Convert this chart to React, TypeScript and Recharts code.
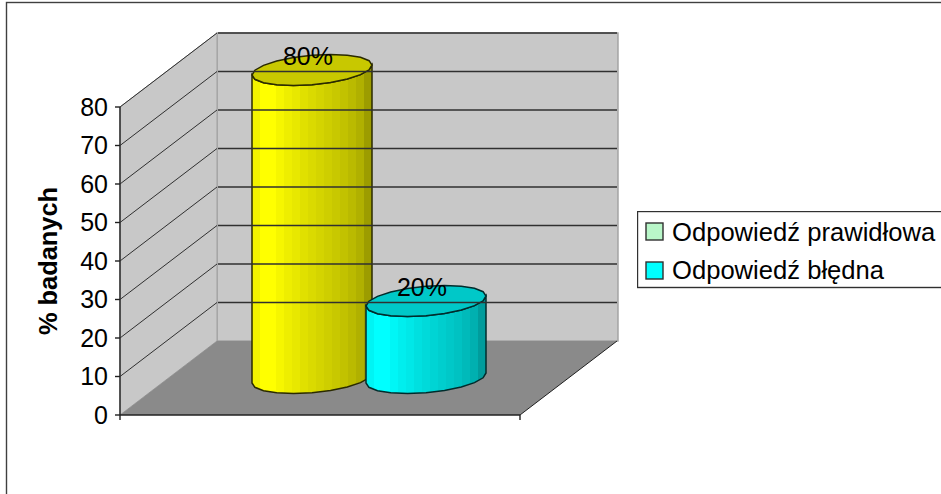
import React from "react";
import { BarChart, Bar, XAxis, YAxis, Legend, LabelList } from "recharts";

const categories = ["Odpowiedzi"];
const correctAnswers = [80];
const wrongAnswers = [20];
const valueTicks = [0, 10, 20, 30, 40, 50, 60, 70, 80];
const seriesNames = ["Odpowiedź prawidłowa", "Odpowiedź błędna"];
const legendColors = ["#b9f7c9", "#00ffff"];

const rows = categories.map((name, i) => ({
  name,
  correct: correctAnswers[i],
  wrong: wrongAnswers[i],
}));

// Plot box of the front plane, and the receding offset of the 3D floor and walls.
const W = 941;
const H = 494;
const LEFT = 120;
const TOP = 107;
const RIGHT = 520;
const BOTTOM = 415;
const DX = 98;
const DY = -74;
const FONT = "'Liberation Sans', Arial, sans-serif";

// Brightness of the vertical shading bands, left to right around the cylinder.
const bandLevels = [0xf4, 0xff, 0xff, 0xf6, 0xee, 0xe8, 0xe0, 0xda, 0xd4, 0xce, 0xc8, 0xc2, 0xba, 0xb0, 0x9c];

type Tint = { id: string; paint: (level: number) => string; cap: string; edge: string };

const hex = (level: number) => level.toString(16).padStart(2, "0");

const yellowTint: Tint = {
  id: "cyl-yellow",
  paint: (l) => `#${hex(l)}${hex(l)}00`,
  cap: "#c8c800",
  edge: "#2a2a00",
};

const cyanTint: Tint = {
  id: "cyl-cyan",
  paint: (l) => `#00${hex(l)}${hex(l)}`,
  cap: "#00c8c8",
  edge: "#002c2c",
};

// Outline of a tilted ellipse sampled as a polygon, like the faceted caps of the cylinders.
const rimPoint = (cx: number, cy: number, t: number, rx: number) => [
  cx + rx * Math.cos(t),
  cy + 14.7 * Math.sin(t) - 5 * Math.cos(t),
];

const SEGMENTS = 20;

const capPath = (cx: number, cy: number, rx: number) => {
  const pts: string[] = [];
  for (let i = 0; i < SEGMENTS; i++) {
    const [x, y] = rimPoint(cx, cy, (i / SEGMENTS) * Math.PI * 2, rx);
    pts.push(`${x.toFixed(1)},${y.toFixed(1)}`);
  }
  return `M${pts.join("L")}Z`;
};

const bodyPath = (cx: number, topY: number, baseY: number, rx: number) => {
  const lower: string[] = [];
  for (let i = 0; i <= SEGMENTS / 2; i++) {
    const [x, y] = rimPoint(cx, baseY, (i / SEGMENTS) * Math.PI * 2, rx);
    lower.push(`${x.toFixed(1)},${y.toFixed(1)}`);
  }
  const upper: string[] = [];
  for (let i = SEGMENTS / 2; i >= 0; i--) {
    const [x, y] = rimPoint(cx, topY, (i / SEGMENTS) * Math.PI * 2, rx);
    upper.push(`${x.toFixed(1)},${y.toFixed(1)}`);
  }
  return `M${lower.join("L")}L${upper.join("L")}Z`;
};

const Cylinder = (tint: Tint) => (props: any) => {
  const { x, y, width, height } = props;
  const cx = x + width / 2 + DX / 2;
  const topY = y + DY / 2;
  const baseY = y + height + DY / 2;
  const rx = width / 2;
  const n = bandLevels.length;
  return (
    <g>
      <defs>
        <linearGradient id={tint.id}>
          {bandLevels.flatMap((level, i) => [
            <stop key={`${i}a`} offset={i / n} stopColor={tint.paint(level)} />,
            <stop key={`${i}b`} offset={(i + 1) / n} stopColor={tint.paint(level)} />,
          ])}
        </linearGradient>
      </defs>
      <path d={bodyPath(cx, topY, baseY, rx)} fill={`url(#${tint.id})`} stroke={tint.edge} strokeWidth={1.5} />
      <path d={capPath(cx, topY, rx)} fill={tint.cap} stroke={tint.edge} strokeWidth={1.5} />
    </g>
  );
};

// Percentage label sitting on the cylinder's cap.
const PercentLabel = (props: any) => {
  const { x, y, width, value } = props;
  return (
    <text
      x={x + width / 2 + DX / 2 - 4}
      y={y + DY / 2 - 5}
      textAnchor="middle"
      fontFamily={FONT}
      fontSize={25}
      fill="#000"
    >
      {value}%
    </text>
  );
};

// Each value tick draws its number, its mark, and the grid line across both walls.
const WallTick = (props: any) => {
  const { y, payload } = props;
  const line = "#303030";
  return (
    <g>
      {payload.value > 0 && (
        <>
          <line x1={LEFT} y1={y} x2={LEFT + DX - 1} y2={y + DY} stroke={line} strokeWidth={1} />
          <line x1={LEFT + DX} y1={y + DY} x2={RIGHT + DX - 1} y2={y + DY} stroke={line} strokeWidth={1.4} />
        </>
      )}
      <line x1={LEFT - 5} y1={y} x2={LEFT} y2={y} stroke="#202020" strokeWidth={1.4} />
      <text x={LEFT - 12} y={y + 8.5} textAnchor="end" fontFamily={FONT} fontSize={25} fill="#000">
        {payload.value}
      </text>
    </g>
  );
};

// The wrapper stays zero-sized so the legend takes no room from the plot.
const LegendBox = () => (
  <svg width={320} height={84} style={{ position: "absolute", left: 0, top: 0, display: "block" }}>
    <rect x={0.5} y={0.5} width={340} height={76} fill="#fff" stroke="#303030" strokeWidth={1.4} />
    {seriesNames.map((name, i) => (
      <g key={name}>
        <rect x={9} y={12 + i * 39} width={17} height={17} fill={legendColors[i]} stroke="#303030" strokeWidth={1.4} />
        <text x={35} y={30 + i * 38} fontFamily={FONT} fontSize={25.6} fill="#000">
          {name}
        </text>
      </g>
    ))}
  </svg>
);

export default function App() {
  return (
    <div style={{ position: "absolute", left: 0, top: 0, width: W, height: H, overflow: "hidden", background: "#fff" }}>
      <BarChart
        width={W}
        height={H}
        data={rows}
        margin={{ left: 0, top: TOP, right: W - RIGHT, bottom: 0 }}
        barSize={120}
        barGap={-6}
      >
        {/* chart frame, open past the page's right and bottom edges */}
        <rect x={6.5} y={2.5} width={W + 20} height={H + 20} fill="#fff" stroke="#404040" strokeWidth={1.4} />
        {/* back wall */}
        <rect x={LEFT + DX - 1} y={TOP + DY} width={RIGHT - LEFT + 1} height={BOTTOM - TOP} fill="#c8c8c8" stroke="#a0a0a0" strokeWidth={1.4} />
        {/* side wall */}
        <polygon
          points={`${LEFT},${TOP} ${LEFT + DX - 1},${TOP + DY} ${LEFT + DX - 1},${BOTTOM + DY} ${LEFT},${BOTTOM}`}
          fill="#c8c8c8"
          stroke="#a0a0a0"
          strokeWidth={1}
        />
        {/* floor */}
        <polygon
          points={`${LEFT},${BOTTOM} ${RIGHT},${BOTTOM} ${RIGHT + DX - 1},${BOTTOM + DY} ${LEFT + DX - 1},${BOTTOM + DY}`}
          fill="#8a8a8a"
        />
        <line x1={RIGHT} y1={BOTTOM} x2={RIGHT + DX - 1} y2={BOTTOM + DY} stroke="#202020" strokeWidth={1} />
        <line x1={LEFT} y1={BOTTOM} x2={LEFT} y2={BOTTOM + 5} stroke="#202020" strokeWidth={1.4} />
        <line x1={RIGHT} y1={BOTTOM} x2={RIGHT} y2={BOTTOM + 5} stroke="#202020" strokeWidth={1.4} />
        <XAxis dataKey="name" tick={false} tickLine={false} axisLine={{ stroke: "#202020", strokeWidth: 1.4 }} height={H - BOTTOM} />
        <YAxis
          domain={[0, 80]}
          ticks={valueTicks}
          interval={0}
          width={LEFT}
          tick={<WallTick />}
          tickLine={false}
          axisLine={{ stroke: "#202020", strokeWidth: 1.4 }}
          label={{
            value: "% badanych",
            angle: -90,
            position: "insideLeft",
            offset: 0,
            style: { fontFamily: FONT, fontWeight: 700, fontSize: 25.4, fill: "#000", textAnchor: "middle" },
            dx: 48,
          }}
        />
        <Legend
          layout="vertical"
          content={<LegendBox />}
          wrapperStyle={{ position: "absolute", left: 637, top: 211, width: 0, height: 0, bottom: "auto", right: "auto" }}
        />
        <Bar dataKey="correct" name={seriesNames[0]} fill={legendColors[0]} shape={Cylinder(yellowTint)} isAnimationActive={false}>
          <LabelList dataKey="correct" content={<PercentLabel />} />
        </Bar>
        <Bar dataKey="wrong" name={seriesNames[1]} fill={legendColors[1]} shape={Cylinder(cyanTint)} isAnimationActive={false}>
          <LabelList dataKey="wrong" content={<PercentLabel />} />
        </Bar>
      </BarChart>
    </div>
  );
}
